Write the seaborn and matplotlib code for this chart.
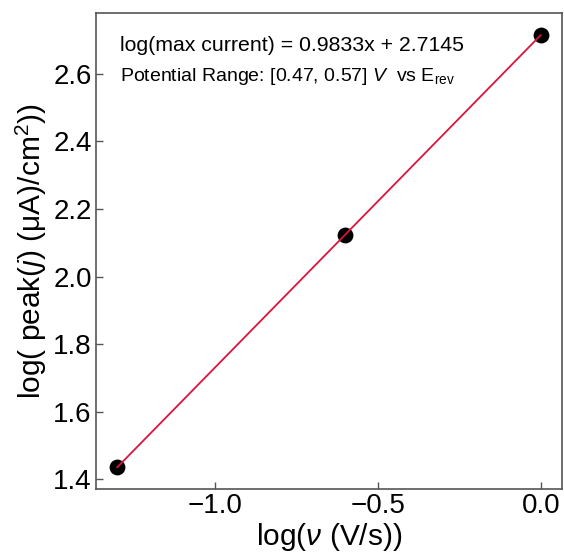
import numpy as np
import pandas as pd
import matplotlib
matplotlib.use("Agg")
import matplotlib.pyplot as plt
import seaborn as sns

# Data
log_scan_rate = [-1.30103, -0.60206, 0.0]
log_peak_j = [1.436, 2.122, 2.714]
slope = 0.9833
intercept = 2.7145
eq_text = "log(max current) = 0.9833x + 2.7145"
range_text = "Potential Range: [0.47, 0.57] $V$  vs E$_{\\mathrm{rev}}$"

sns.set_style("ticks")
plt.rcParams['font.family'] = ['Liberation Sans', 'DejaVu Sans']
plt.rcParams['mathtext.fontset'] = 'custom'
plt.rcParams['mathtext.rm'] = 'Liberation Sans'
plt.rcParams['mathtext.it'] = 'Liberation Sans:italic'
plt.rcParams['mathtext.bf'] = 'Liberation Sans:bold'
plt.rcParams['text.color'] = 'black'
plt.rcParams['axes.labelcolor'] = 'black'

df = pd.DataFrame({"x": log_scan_rate, "y": log_peak_j})
fit = pd.DataFrame({"x": log_scan_rate,
                    "y": [slope * v + intercept for v in log_scan_rate]})

fig = plt.figure(figsize=(5.64, 5.57), dpi=100)
ax = fig.add_axes([0.170, 0.122, 0.9965 - 0.170, 0.976 - 0.122])

sns.scatterplot(data=df, x="x", y="y", ax=ax, color="black", s=130,
                edgecolor="black", linewidth=0, zorder=2)
sns.lineplot(data=fit, x="x", y="y", ax=ax, color="#DC143C", linewidth=1.3,
             zorder=3)

ax.tick_params(direction="in", labelsize=20, length=5, width=1,
               colors="#555555", labelcolor="black", pad=3)
for sp in ax.spines.values():
    sp.set_color("#555555")
    sp.set_linewidth(1.2)

ax.set_xlabel("log($\\nu$ (V/s))", fontsize=21.5, color="black", labelpad=1)
ax.set_ylabel("log( peak($j$) (μA)/cm$^2$))", fontsize=21.5, color="black",
              labelpad=3)
ax.set_xticks([-1.0, -0.5, 0.0])
ax.set_yticks([1.4, 1.6, 1.8, 2.0, 2.2, 2.4, 2.6])

ax.text(0.051, 0.932, eq_text, transform=ax.transAxes, fontsize=15.3,
        va="center", ha="left", color="black")
ax.text(0.051, 0.868, range_text, transform=ax.transAxes, fontsize=14,
        va="center", ha="left", color="black")

fig.savefig("out.png", dpi=100)
